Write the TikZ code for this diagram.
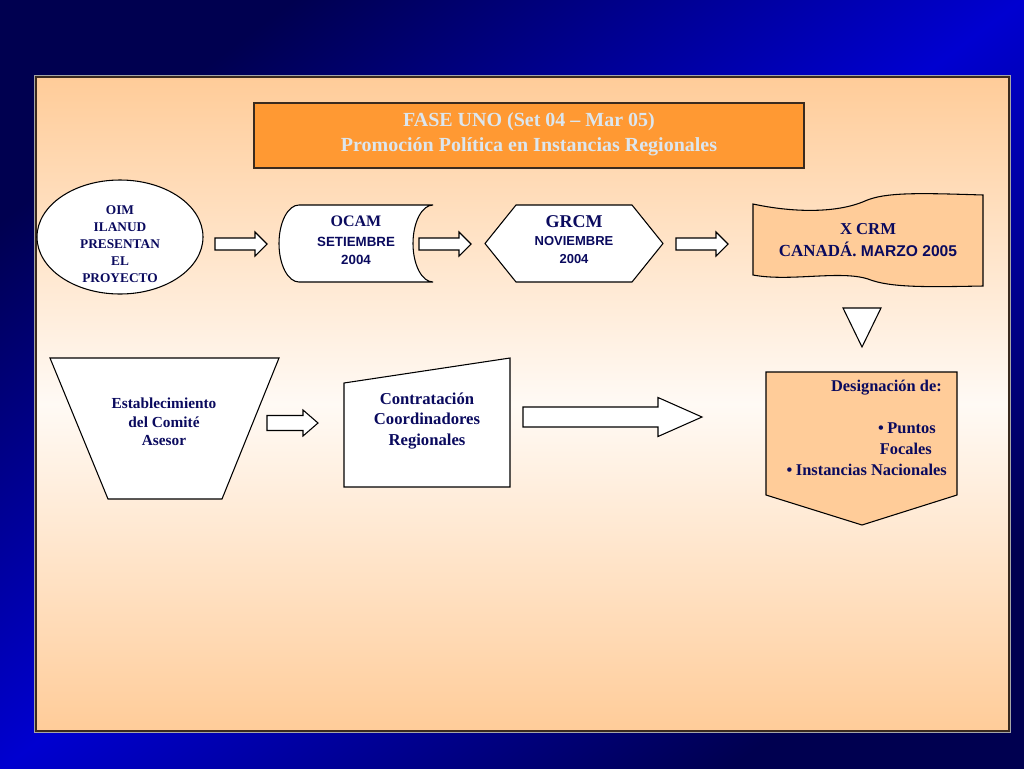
\documentclass[tikz,border=0pt]{standalone}
\usepackage{fontspec}
\setmainfont{Liberation Serif}
\newfontfamily\tahoma{Liberation Sans}
\definecolor{bgdark}{HTML}{000050}
\definecolor{bgbright}{HTML}{0000D0}
\definecolor{peach}{HTML}{FFCC99}
\definecolor{peachlight}{HTML}{FFFAF5}
\definecolor{orangebox}{HTML}{FF9933}
\definecolor{navytext}{HTML}{0A0A5E}
\definecolor{titletext}{HTML}{DCE6EE}
\definecolor{framecol}{HTML}{3A2A1E}
\tikzset{
  shapeline/.style={draw=black, line width=0.8pt, line join=miter},
  whitefill/.style={shapeline, fill=white},
  peachfill/.style={shapeline, fill=peach},
  lbl/.style={text=navytext, font=\bfseries, align=center, inner sep=0pt},
  blockarrow/.style={whitefill},
}
\newcommand\barrow[6]{% x y length bodyhalf headhalf headlength
  \draw[blockarrow] (#1,#2-#4) -- (#1+#3-#6,#2-#4) -- (#1+#3-#6,#2-#5) -- (#1+#3,#2)
    -- (#1+#3-#6,#2+#5) -- (#1+#3-#6,#2+#4) -- (#1,#2+#4) -- cycle;}
\newcommand\bul{\textbullet\kern0.22em}
\begin{document}
\begin{tikzpicture}[x=0.75pt,y=-0.75pt]
\useasboundingbox (0,0) rectangle (1024,768);
% background
\shade[top color=bgdark, bottom color=bgdark, middle color=bgbright, shading angle=37] (0,0) rectangle (1024,768);
% panel
\draw[gray!70, line width=1.2pt] (35,76) rectangle (1010,732);
\shade[top color=peach, bottom color=peach, middle color=peachlight, draw=framecol, line width=1.3pt] (36,77) rectangle (1009,731);
% title
\draw[fill=orangebox, draw=framecol, line width=1.2pt] (254,103) rectangle (804,168);
\node[text=titletext, font=\bfseries\fontsize{15}{18.75}\selectfont, align=center, inner sep=0pt] (title) at (529,134)
  {FASE UNO (Set 04 -- Mar 05)\\Promoción Política en Instancias Regionales};
% ellipse
\draw[whitefill] (120,237) ellipse [x radius=83, y radius=57];
\node[lbl, font=\bfseries\fontsize{10}{12.75}\selectfont] (oim) at (120,244) {OIM\\ILANUD\\PRESENTAN\\EL\\PROYECTO};
% OCAM stored data
\draw[whitefill] (299,205) -- (433,205) arc[start angle=-90, end angle=-270, x radius=20, y radius=38.5]
  -- (299,282) arc[start angle=90, end angle=270, x radius=20, y radius=38.5] -- cycle;
\node[lbl, font=\bfseries\fontsize{12}{15}\selectfont] (ocam) at (356,221) {OCAM};
\node[lbl, font=\tahoma\bfseries\fontsize{10}{14}\selectfont] (ocamd) at (356,251) {SETIEMBRE\\2004};
% GRCM hexagon
\draw[whitefill] (485,243.5) -- (516,205) -- (632,205) -- (663,243.5) -- (632,282) -- (516,282) -- cycle;
\node[lbl, font=\bfseries\fontsize{13.5}{15}\selectfont] (grcm) at (574,222) {GRCM};
\node[lbl, font=\tahoma\bfseries\fontsize{9.75}{13}\selectfont] (grcmd) at (574,250) {NOVIEMBRE\\2004};
% X CRM wave
\draw[peachfill] (753,204) .. controls (790,212) and (835,214) .. (865,201)
  .. controls (885,192) and (920,193) .. (983,195) -- (983,286)
  .. controls (930,287) and (890,288) .. (868,279)
  .. controls (840,270) and (790,282) .. (753,275) -- cycle;
\node[lbl, font=\bfseries\fontsize{12.5}{14}\selectfont] (xcrm) at (868,229) {X CRM};
\node[lbl, font=\bfseries\fontsize{12.7}{14}\selectfont] (canada) at (868,249) {CANADÁ. {\tahoma\bfseries\fontsize{11.7}{14}\selectfont MARZO 2005}};
% down triangle
\draw[whitefill] (843,308) -- (881,308) -- (862,347) -- cycle;
% trapezoid
\draw[whitefill] (50,358) -- (279,358) -- (222,499) -- (108,499) -- cycle;
\node[lbl, font=\bfseries\fontsize{11.5}{13.9}\selectfont] (comite) at (164,422) {Establecimiento\\del Comité\\Asesor};
% manual input
\draw[whitefill] (344,383) -- (510,358) -- (510,487) -- (344,487) -- cycle;
\node[lbl, font=\bfseries\fontsize{12.5}{15.4}\selectfont] (contrat) at (427,421) {Contratación\\Coordinadores\\Regionales};
% pentagon
\draw[peachfill] (766,372) -- (957,372) -- (957,495) -- (862,525) -- (766,495) -- cycle;
\node[lbl, anchor=east, font=\bfseries\fontsize{12.3}{15}\selectfont] (desig) at (942,388) {Designación de:};
\node[lbl, anchor=east, font=\bfseries\fontsize{12.3}{15}\selectfont] (puntos) at (936,428) {\bul Puntos};
\node[lbl, anchor=east, font=\bfseries\fontsize{12.3}{15}\selectfont] (focales) at (932,449) {Focales};
\node[lbl, anchor=east, font=\bfseries\fontsize{12.3}{15}\selectfont] (inst) at (947,470) {\bul Instancias Nacionales};
% block arrows
\barrow{215}{244}{52}{6}{12}{12}
\barrow{419}{244}{52}{6}{12}{12}
\barrow{676}{244}{52}{6}{12}{12}
\barrow{267}{423}{51}{7.5}{13}{15}
\barrow{523}{417}{179}{10}{19.5}{44}
\end{tikzpicture}
\end{document}
